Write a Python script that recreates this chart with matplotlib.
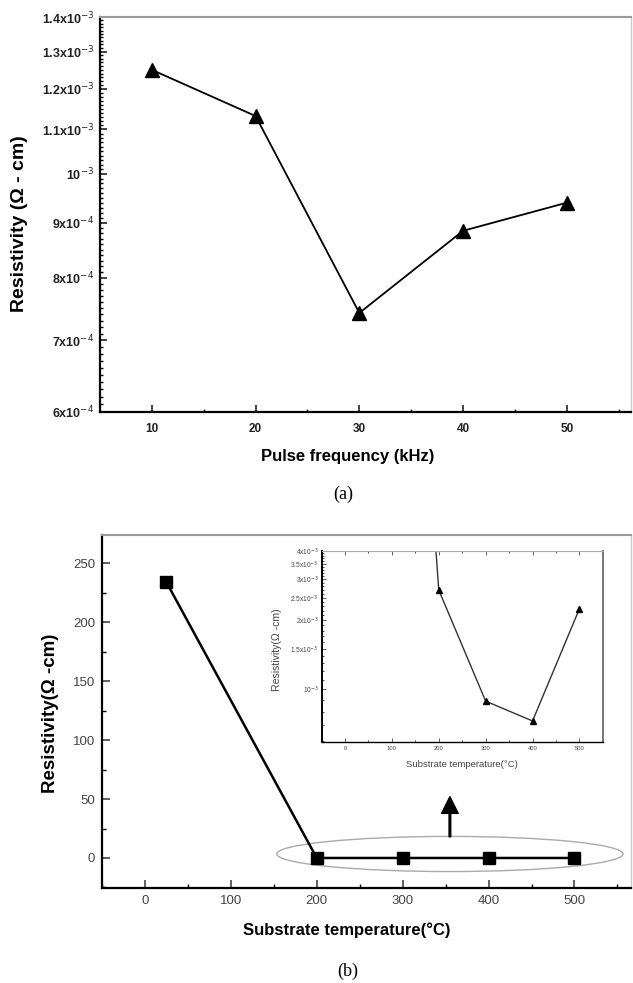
import matplotlib
matplotlib.use("Agg")
import matplotlib.pyplot as plt
import numpy as np
from matplotlib.patches import Ellipse
from matplotlib.ticker import FixedLocator, MultipleLocator

plt.rcParams['font.family'] = ['Liberation Sans', 'DejaVu Sans']

# panel (a)
freq = [10, 20, 30, 40, 50]
rho_freq = [1.25e-3, 1.132e-3, 7.42e-4, 8.85e-4, 9.4e-4]
a_yticks = [6e-4, 7e-4, 8e-4, 9e-4, 1e-3, 1.1e-3, 1.2e-3, 1.3e-3, 1.4e-3]
a_ylabels = [r'6x10$^{-4}$', r'7x10$^{-4}$', r'8x10$^{-4}$', r'9x10$^{-4}$', r'10$^{-3}$',
             r'1.1x10$^{-3}$', r'1.2x10$^{-3}$', r'1.3x10$^{-3}$', r'1.4x10$^{-3}$']

# panel (b)
temp = [25, 200, 300, 400, 500]
rho_temp = [234, 2.7e-3, 8.9e-4, 7.3e-4, 2.24e-3]
inset_yticks = [1e-3, 1.5e-3, 2e-3, 2.5e-3, 3e-3, 3.5e-3, 4e-3]
inset_ylabels = [r'10$^{-3}$', r'1.5x10$^{-3}$', r'2x10$^{-3}$', r'2.5x10$^{-3}$',
                 r'3x10$^{-3}$', r'3.5x10$^{-3}$', r'4x10$^{-3}$']

fig = plt.figure(figsize=(6.33, 9.83), dpi=100)


def style_frame(ax, lw=1.6):
    ax.spines['left'].set_linewidth(lw)
    ax.spines['bottom'].set_linewidth(lw)
    ax.spines['top'].set_color('#999999')
    ax.spines['top'].set_linewidth(1.5)
    ax.spines['right'].set_color('#cccccc')
    ax.spines['right'].set_linewidth(1.0)
    ax.tick_params(which='both', direction='in', top=False, right=False)
    ax.tick_params(which='major', length=5, width=1.2)
    ax.tick_params(which='minor', length=2.5, width=1.0)


# ---- (a)
ax1 = fig.add_axes([0.158, 0.5809, 0.839, 0.4018])
ax1.plot(freq, rho_freq, color='black', lw=1.3, marker='^', ms=9.5, mfc='black', mec='black')
ax1.set_yscale('log')
ax1.set_ylim(6e-4, 1.4e-3)
ax1.set_xlim(5, 56.2)
ax1.yaxis.set_major_locator(FixedLocator(a_yticks))
ax1.set_yticklabels(a_ylabels)
ax1.yaxis.set_minor_locator(FixedLocator(np.arange(6e-4, 1.4e-3, 1e-5)))
ax1.yaxis.set_minor_formatter(plt.NullFormatter())
ax1.xaxis.set_major_locator(MultipleLocator(10))
ax1.xaxis.set_minor_locator(MultipleLocator(5))
style_frame(ax1)
ax1.tick_params(axis='y', labelsize=9, colors='#222222', pad=4)
ax1.tick_params(axis='x', labelsize=8.5, colors='#222222', pad=8)
for t in ax1.get_xticklabels() + ax1.get_yticklabels():
    t.set_fontweight('bold')
ax1.set_ylabel('Resistivity (Ω - cm)', fontsize=14, fontweight='bold')
ax1.yaxis.set_label_coords(-0.135, 0.477)
ax1.set_xlabel('Pulse frequency (kHz)', fontsize=12, fontweight='bold')
ax1.xaxis.set_label_coords(0.466, -0.094)
fig.text(0.5427, 1 - 494 / 983, '(a)', fontsize=13, family='Liberation Serif', ha='center', va='center')

# ---- (b)
ax2 = fig.add_axes([0.1611, 0.0966, 0.836, 0.3591])
ax2.plot(temp, rho_temp, color='black', lw=1.8, marker='s', ms=8.5, mfc='black', mec='black')
ax2.set_xlim(-50, 566)
ax2.set_ylim(-25.5, 274)
ax2.xaxis.set_major_locator(MultipleLocator(100))
ax2.xaxis.set_minor_locator(MultipleLocator(50))
ax2.yaxis.set_major_locator(MultipleLocator(50))
ax2.yaxis.set_minor_locator(MultipleLocator(25))
style_frame(ax2)
ax2.tick_params(which='major', length=6)
ax2.tick_params(which='minor', length=3)
ax2.tick_params(axis='both', labelsize=9.5, colors='#444444', pad=5)
ax2.set_ylabel('Resistivity(Ω -cm)', fontsize=13.5, fontweight='bold')
ax2.yaxis.set_label_coords(-0.082, 0.496)
ax2.set_xlabel('Substrate temperature(°C)', fontsize=12, fontweight='bold')
ax2.xaxis.set_label_coords(0.463, -0.097)
fig.text(0.55, 1 - 971 / 983, '(b)', fontsize=13, family='Liberation Serif', ha='center', va='center')

ax2.add_patch(Ellipse((355, 3.4), 403, 29.8, fill=False, ec='#aaaaaa', lw=1.0))
ax2.annotate('', xy=(355, 52), xytext=(355, 18),
             arrowprops=dict(facecolor='black', edgecolor='black', width=1.2,
                             headwidth=12, headlength=12, shrink=0))

# ---- inset
ax3 = fig.add_axes([0.508, 0.2452, 0.4444, 0.1946])
ax3.plot(temp, rho_temp, color='#333333', lw=1.0, marker='^', ms=4, mfc='black', mec='black')
ax3.set_yscale('log')
ax3.set_ylim(5.92e-4, 4e-3)
ax3.set_xlim(-50, 550)
ax3.yaxis.set_major_locator(FixedLocator(inset_yticks))
ax3.set_yticklabels(inset_ylabels)
ax3.yaxis.set_minor_locator(FixedLocator(np.arange(6e-4, 4e-3, 1e-4)))
ax3.yaxis.set_minor_formatter(plt.NullFormatter())
ax3.xaxis.set_major_locator(MultipleLocator(100))
ax3.xaxis.set_minor_locator(MultipleLocator(50))
ax3.spines['left'].set_linewidth(1.4)
ax3.spines['bottom'].set_linewidth(1.0)
ax3.spines['top'].set_color('#aaaaaa')
ax3.spines['top'].set_linewidth(0.8)
ax3.spines['right'].set_color('#777777')
ax3.spines['right'].set_linewidth(1.4)
ax3.tick_params(which='both', direction='in', top=True, right=False)
ax3.tick_params(which='major', length=3, width=0.6)
ax3.tick_params(which='minor', length=1.5, width=0.5)
ax3.tick_params(axis='y', labelsize=4.8, colors='#444444', pad=2)
ax3.tick_params(axis='x', labelsize=4.2, colors='#444444', pad=3)
ax3.set_ylabel('Resistivity(Ω -cm)', fontsize=7.6, color='#444444')
ax3.yaxis.set_label_coords(-0.14, 0.481)
ax3.set_xlabel('Substrate temperature(°C)', fontsize=6.8, color='#444444')
ax3.xaxis.set_label_coords(0.499, -0.094)

fig.savefig('out.png', dpi=100)
